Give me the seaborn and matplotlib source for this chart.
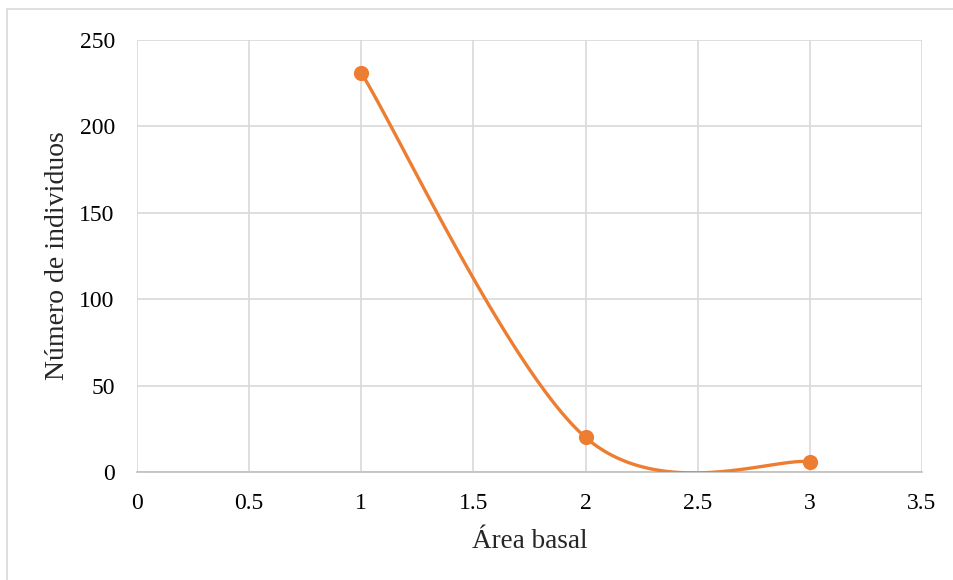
import numpy as np
import pandas as pd
import matplotlib
matplotlib.use("Agg")
import matplotlib.pyplot as plt
import seaborn as sns

# datos
area_basal = [1, 2, 3]
num_individuos = [231, 20, 6]

color = "#ED7D31"

sns.set_style("white")
plt.rcParams["font.family"] = ["Liberation Serif", "DejaVu Serif"]

fig = plt.figure(figsize=(9.54, 5.8), dpi=100)
ax = fig.add_axes([137 / 954, 108 / 580, 785 / 954, 432 / 580])
ax.set_xlim(0, 3.5)
ax.set_ylim(0, 250)

# línea suavizada estilo Excel (Bezier en coordenadas de pantalla)
sx, sy = 785 / 3.5, 432 / 250
pts = np.column_stack([np.array(area_basal) * sx, np.array(num_individuos) * sy])
ext = np.vstack([pts[0], pts, pts[-1]])
t = np.linspace(0, 1, 60)[:, None]
curva = []
for i in range(1, len(ext) - 2):
    p0, p1, p2, p3 = ext[i - 1], ext[i], ext[i + 1], ext[i + 2]
    c1 = p1 + (p2 - p0) / 6
    c2 = p2 - (p3 - p1) / 6
    seg = (1 - t) ** 3 * p1 + 3 * (1 - t) ** 2 * t * c1 + 3 * (1 - t) * t ** 2 * c2 + t ** 3 * p2
    curva.append(seg)
curva = np.vstack(curva)
df_curva = pd.DataFrame({"x": curva[:, 0] / sx, "y": curva[:, 1] / sy})

sns.lineplot(data=df_curva, x="x", y="y", sort=False, estimator=None, color=color,
             linewidth=2.4, ax=ax, zorder=3)
sns.scatterplot(x=area_basal, y=num_individuos, color=color, s=120, edgecolor=color,
                linewidth=0, ax=ax, zorder=4, clip_on=False)

ax.set_xticks(np.arange(0, 3.51, 0.5))
ax.set_xticklabels(["0", "0.5", "1", "1.5", "2", "2.5", "3", "3.5"])
ax.set_yticks(np.arange(0, 251, 50))
ax.grid(True, color="#d9d9d9", linewidth=1.2)
ax.set_axisbelow(True)
for s in ["top", "right", "left"]:
    ax.spines[s].set_visible(False)
ax.spines["bottom"].set_color("#bfbfbf")
ax.spines["bottom"].set_linewidth(1.2)
ax.tick_params(axis="both", length=0, labelsize=17, colors="black")
ax.tick_params(axis="y", pad=16)
ax.tick_params(axis="x", pad=15)

ax.set_xlabel("Área basal", fontsize=19.5, labelpad=11)
ax.set_ylabel("Número de individuos", fontsize=20, labelpad=7)

# marco del gráfico
fig.patches.append(plt.Rectangle((7 / 954, -0.05), 1.1, 1 - 9 / 580 + 0.05,
                                 transform=fig.transFigure, fill=False,
                                 edgecolor="#d9d9d9", linewidth=1.2))

fig.savefig("out.png", dpi=100)
